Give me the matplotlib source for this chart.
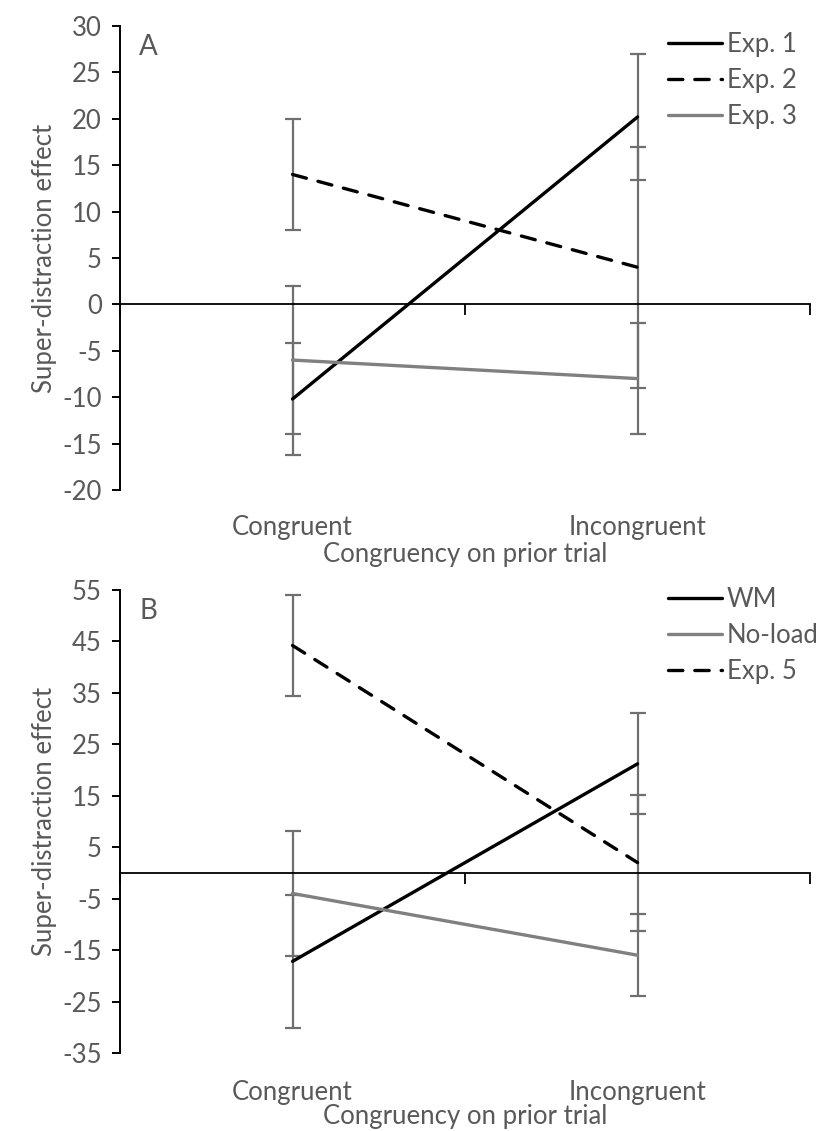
import matplotlib
matplotlib.use("Agg")
import matplotlib.pyplot as plt

# data
categories = ["Congruent", "Incongruent"]

a_names = ["Exp. 1", "Exp. 2", "Exp. 3"]
a_means = [[-10.2, 20.2], [14.0, 4.0], [-6.0, -8.0]]
a_errs = [[6.0, 6.8], [6.0, 13.0], [8.0, 6.0]]

b_names = ["WM", "No-load", "Exp. 5"]
b_means = [[-17.2, 21.2], [-4.0, -16.0], [44.2, 2.0]]
b_errs = [[13.0, 9.8], [12.2, 8.0], [9.8, 13.2]]

a_yticks = list(range(-20, 31, 5))
b_yticks = list(range(-35, 56, 10))

plt.rcParams['font.family'] = ['Lato', 'DejaVu Sans']
plt.rcParams['axes.unicode_minus'] = False
grey_txt = '#595959'
black = '#000000'
grey_line = '#808080'
err_col = '#6f6f6f'
dash = (0, (4.3, 3.6))
fs = 18.5


def panel(ax, names, means, errs, styles, yticks, letter, lab_off, leg_y):
    xs = [0.5, 1.5]
    for m, e in zip(means, errs):
        ax.errorbar(xs, m, yerr=e, fmt='none', ecolor=err_col,
                    elinewidth=1.6, capsize=5.5, capthick=1.6, zorder=2)
    for n, m, (col, ls) in zip(names, means, styles):
        ax.plot(xs, m, color=col, linestyle=ls, lw=2.4, label=n,
                solid_capstyle='round', dash_capstyle='round', zorder=3)
    ax.set_xlim(0, 2)
    ax.set_ylim(yticks[0], yticks[-1])
    ax.set_yticks(yticks)
    ax.tick_params(axis='y', direction='out', length=6, width=1.4,
                   labelsize=fs, labelcolor=grey_txt, pad=7)
    ax.spines['top'].set_visible(False)
    ax.spines['right'].set_visible(False)
    ax.spines['left'].set_linewidth(1.4)
    ax.spines['bottom'].set_position(('data', 0))
    ax.spines['bottom'].set_linewidth(1.3)
    ax.set_xticks([0, 1, 2])
    ax.set_xticklabels([])
    ax.tick_params(axis='x', direction='out', length=8, width=1.3)
    tr = ax.get_xaxis_transform()
    for x, c in zip(xs, categories):
        ax.text(x, -lab_off[0], c, transform=tr, ha='center', va='center',
                fontsize=fs, color=grey_txt)
    ax.text(1.0, -lab_off[1], "Congruency on prior trial", transform=tr,
            ha='center', va='center', fontsize=fs, color=grey_txt)
    ax.set_ylabel("Super-distraction effect", fontsize=fs, color=grey_txt,
                  labelpad=4)
    ax.text(0.028, 0.955, letter, transform=ax.transAxes, fontsize=20,
            color=grey_txt, va='center', ha='left')
    leg = ax.legend(loc='upper left', bbox_to_anchor=(0.794, leg_y),
                    frameon=False, fontsize=fs, handlelength=2.1,
                    handletextpad=0.2, labelspacing=0.43, borderaxespad=0,
                    borderpad=0)
    for t in leg.get_texts():
        t.set_color(grey_txt)


fig = plt.figure(figsize=(8.26, 11.31), dpi=100)
ax_a = fig.add_axes([0.1453, 0.5668, 0.8354, 0.4102])
ax_b = fig.add_axes([0.1453, 0.0690, 0.8354, 0.4094])

panel(ax_a, a_names, a_means, a_errs,
      [(black, '-'), (black, dash), (grey_line, '-')],
      a_yticks, "A", (0.08, 0.14), 0.987)
panel(ax_b, b_names, b_means, b_errs,
      [(black, '-'), (grey_line, '-'), (black, dash)],
      b_yticks, "B", (0.086, 0.138), 1.006)

fig.savefig("out.png", dpi=100)
